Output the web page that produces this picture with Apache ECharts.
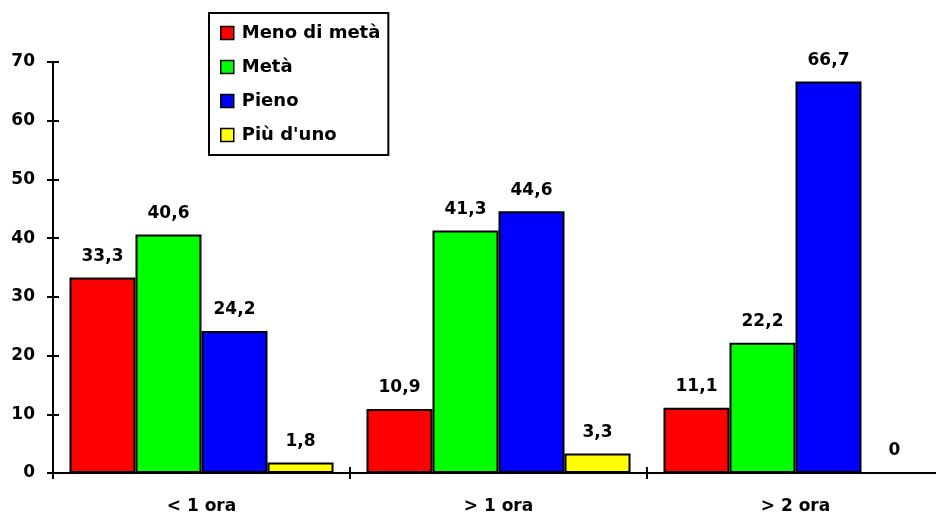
<!DOCTYPE html>
<html>
<head>
<meta charset="utf-8">
<script src="https://cdn.jsdelivr.net/npm/echarts@6/dist/echarts.min.js"></script>
<style>
  html, body { margin: 0; padding: 0; background: #fff; }
  #chart { width: 936px; height: 513px; }
</style>
</head>
<body>
<div id="chart"></div>
<script>
// Durata per categoria (%)
const categories = ['< 1 ora', '> 1 ora', '> 2 ora'];
const seriesNames = ['Meno di metà', 'Metà', 'Pieno', "Più d'uno"];
const menoDiMeta = [33.3, 10.9, 11.1];
const meta = [40.6, 41.3, 22.2];
const pieno = [24.2, 44.6, 66.7];
const piuDiUno = [1.8, 3.3, 0];
const yTicks = [0, 10, 20, 30, 40, 50, 60, 70];

const colors = ['#FF0000', '#00FF00', '#0000FF', '#FFFF00'];
const font = 'DejaVu Sans';

const chart = echarts.init(document.getElementById('chart'), null, { renderer: 'canvas' });

const fmt = (v) => String(v).replace('.', ',');

function makeSeries(name, data, color) {
  return {
    name: name,
    type: 'bar',
    data: data,
    xAxisIndex: 0,
    yAxisIndex: 0,
    barGap: '0%',
    barCategoryGap: '11.1%',
    itemStyle: { color: color, borderColor: '#000', borderWidth: 2 },
    label: {
      show: true,
      position: 'top',
      distance: 12.5,
      formatter: (p) => fmt(p.value),
      fontFamily: font,
      fontWeight: 'bold',
      fontSize: 17,
      color: '#000'
    }
  };
}

const axisLineStyle = { show: true, lineStyle: { color: '#000', width: 2 } };

// the plot area runs a little past the right edge of the canvas
chart.setOption({
  animation: false,
  backgroundColor: '#fff',
  grid: {
    left: 53, top: 62, width: 891, bottom: 40,
    containLabel: false,
    outerBoundsMode: 'none'
  },
  legend: {
    orient: 'vertical',
    left: 209,
    top: 13,
    data: seriesNames,
    itemWidth: 13,
    itemHeight: 13,
    itemGap: 16,
    padding: [11, 8, 11, 11],
    borderColor: '#000',
    borderWidth: 2,
    backgroundColor: '#fff',
    icon: 'rect',
    itemStyle: { borderColor: '#000', borderWidth: 1.5 },
    textStyle: {
      fontFamily: font,
      fontWeight: 'bold',
      fontSize: 18,
      color: '#000',
      padding: [0, 0, 0, 3]
    }
  },
  xAxis: [
    {
      type: 'category',
      data: categories,
      position: 'bottom',
      axisLine: axisLineStyle,
      axisTick: { show: true, inside: false, length: 6, lineStyle: { color: '#000', width: 2 } },
      axisLabel: {
        margin: 25,
        fontFamily: font,
        fontWeight: 'bold',
        fontSize: 17,
        color: '#000'
      },
      splitLine: { show: false }
    },
    {
      type: 'category',
      data: categories,
      position: 'bottom',
      axisLine: { show: false },
      axisTick: { show: true, inside: true, length: 6, lineStyle: { color: '#000', width: 2 } },
      axisLabel: { show: false },
      splitLine: { show: false }
    }
  ],
  yAxis: [
    {
      type: 'value',
      min: yTicks[0],
      max: yTicks[yTicks.length - 1],
      interval: yTicks[1] - yTicks[0],
      axisLine: axisLineStyle,
      axisTick: { show: true, inside: false, length: 6, lineStyle: { color: '#000', width: 2 } },
      axisLabel: {
        margin: 18,
        fontFamily: font,
        fontWeight: 'bold',
        fontSize: 17,
        color: '#000'
      },
      splitLine: { show: false }
    },
    {
      type: 'value',
      position: 'left',
      min: yTicks[0],
      max: yTicks[yTicks.length - 1],
      interval: yTicks[1] - yTicks[0],
      axisLine: { show: false },
      axisTick: { show: true, inside: true, length: 6, lineStyle: { color: '#000', width: 2 } },
      axisLabel: { show: false },
      splitLine: { show: false }
    }
  ],
  series: [
    makeSeries(seriesNames[0], menoDiMeta, colors[0]),
    makeSeries(seriesNames[1], meta, colors[1]),
    makeSeries(seriesNames[2], pieno, colors[2]),
    makeSeries(seriesNames[3], piuDiUno, colors[3])
  ]
});
</script>
</body>
</html>
